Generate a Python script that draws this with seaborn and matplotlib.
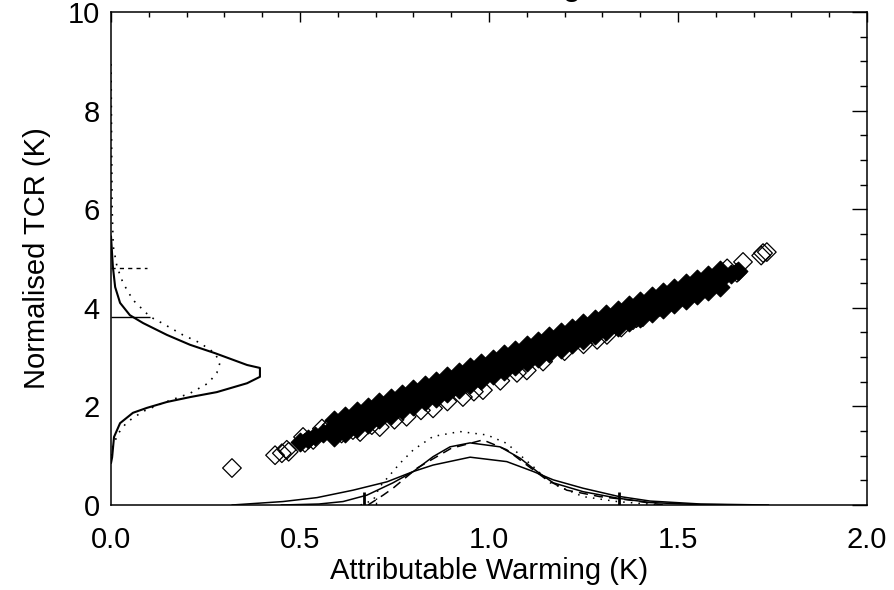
import numpy as np
import pandas as pd
import matplotlib
matplotlib.use("Agg")
import matplotlib.pyplot as plt
import seaborn as sns
from matplotlib.ticker import MultipleLocator, FixedLocator, FixedFormatter

# ---------------- data ----------------
# dense core of the scatter cloud (three rows across the band)
band_mid_x = [0.50, 0.52, 0.54, 0.56, 0.58, 0.60, 0.62, 0.64, 0.66, 0.68, 0.70, 0.72, 0.74, 0.76,
              0.78, 0.80, 0.82, 0.84, 0.86, 0.88, 0.90, 0.92, 0.94, 0.96, 0.98, 1.00, 1.02, 1.04,
              1.06, 1.08, 1.10, 1.12, 1.14, 1.16, 1.18, 1.20, 1.22, 1.24, 1.26, 1.28, 1.30, 1.32,
              1.34, 1.36, 1.38, 1.40, 1.42, 1.44, 1.46, 1.48, 1.50, 1.52, 1.54, 1.56, 1.58, 1.60,
              1.62, 1.64, 1.66]
band_mid_y = [1.28, 1.34, 1.40, 1.46, 1.52, 1.58, 1.64, 1.70, 1.76, 1.82, 1.88, 1.94, 2.00, 2.06,
              2.12, 2.18, 2.24, 2.30, 2.36, 2.41, 2.47, 2.53, 2.59, 2.65, 2.71, 2.77, 2.83, 2.89,
              2.95, 3.01, 3.07, 3.13, 3.19, 3.25, 3.31, 3.37, 3.43, 3.49, 3.55, 3.61, 3.67, 3.73,
              3.79, 3.85, 3.91, 3.97, 4.03, 4.09, 4.15, 4.21, 4.27, 4.33, 4.39, 4.45, 4.51, 4.57,
              4.63, 4.69, 4.75]
band_top_x = [0.59, 0.62, 0.65, 0.68, 0.71, 0.74, 0.77, 0.80, 0.83, 0.86, 0.89, 0.92, 0.95, 0.98,
              1.01, 1.04, 1.07, 1.10, 1.13, 1.16, 1.19, 1.22, 1.25, 1.28, 1.31, 1.34, 1.37, 1.40,
              1.43, 1.46, 1.49, 1.52, 1.55, 1.58, 1.61]
band_top_y = [1.72, 1.81, 1.90, 1.99, 2.08, 2.17, 2.26, 2.35, 2.44, 2.52, 2.61, 2.70, 2.79, 2.88,
              2.97, 3.06, 3.15, 3.24, 3.33, 3.42, 3.51, 3.60, 3.69, 3.78, 3.87, 3.96, 4.05, 4.14,
              4.23, 4.32, 4.41, 4.50, 4.59, 4.67, 4.76]
band_low_x = band_top_x
band_low_y = [1.38, 1.47, 1.56, 1.65, 1.74, 1.83, 1.92, 2.01, 2.10, 2.18, 2.27, 2.36, 2.45, 2.54,
              2.63, 2.72, 2.81, 2.90, 2.99, 3.08, 3.17, 3.26, 3.35, 3.44, 3.53, 3.62, 3.71, 3.80,
              3.89, 3.98, 4.07, 4.16, 4.25, 4.34, 4.43]

# individually visible (open) diamonds
open_x = [0.32, 0.434, 0.452, 0.465, 0.47, 0.508, 0.513, 0.535, 0.558, 0.584, 0.61, 0.64, 0.659,
          0.69, 0.711, 0.75, 0.782, 0.82, 0.852, 0.89, 0.931, 0.96, 0.984, 1.03, 1.074, 1.10,
          1.143, 1.20, 1.25, 1.286, 1.312, 1.35, 1.381, 1.39, 1.407, 1.452, 1.487, 1.524, 1.558,
          1.60, 1.63, 1.656, 1.672, 1.72, 1.725, 1.735]
open_y = [0.75, 1.01, 1.05, 1.12, 1.08, 1.38, 1.26, 1.32, 1.55, 1.62, 1.45, 1.52, 1.48, 1.62,
          1.58, 1.73, 1.79, 1.92, 1.96, 2.10, 2.19, 2.30, 2.33, 2.52, 2.68, 2.73, 2.91, 3.12,
          3.26, 3.35, 3.45, 3.60, 3.75, 3.79, 3.81, 4.02, 4.16, 4.36, 4.50, 4.62, 4.80, 4.71,
          4.93, 5.06, 5.11, 5.13]

# marginal PDF of Normalised TCR drawn along the y axis (x = density)
ypdf_solid_x = [0.0, 0.003, 0.008, 0.024, 0.058, 0.095, 0.148, 0.21, 0.28, 0.36, 0.394, 0.394,
                0.36, 0.275, 0.209, 0.148, 0.085, 0.05, 0.024, 0.011, 0.005, 0.0]
ypdf_solid_y = [0.85, 0.97, 1.38, 1.66, 1.87, 1.97, 2.09, 2.19, 2.29, 2.47, 2.60, 2.78,
                2.84, 3.08, 3.25, 3.45, 3.69, 3.85, 4.10, 4.42, 4.83, 5.45]
ypdf_dot_x = [0.0, 0.005, 0.019, 0.042, 0.085, 0.138, 0.21, 0.257, 0.28, 0.288, 0.275, 0.235,
              0.19, 0.135, 0.103, 0.058, 0.032, 0.016, 0.006, 0.003, 0.002, 0.001, 0.0]
ypdf_dot_y = [1.0, 1.2, 1.45, 1.68, 1.90, 2.07, 2.27, 2.47, 2.68, 2.88, 3.08, 3.29,
              3.45, 3.69, 3.82, 4.16, 4.50, 4.83, 5.24, 6.0, 7.0, 8.0, 9.0]

# marginal PDFs of Attributable Warming drawn along the x axis
xpdf_a_x = [0.45, 0.55, 0.614, 0.677, 0.746, 0.80, 0.852, 0.897, 0.95, 1.029, 1.082, 1.127,
            1.17, 1.249, 1.339, 1.426, 1.55, 1.70]
xpdf_a_y = [0.0, 0.02, 0.07, 0.20, 0.45, 0.68, 0.98, 1.18, 1.26, 1.18, 0.95, 0.68,
            0.45, 0.27, 0.14, 0.05, 0.01, 0.0]
xpdf_b_x = [0.32, 0.455, 0.545, 0.64, 0.73, 0.80, 0.852, 0.95, 1.047, 1.117, 1.17, 1.249,
            1.339, 1.426, 1.56, 1.74]
xpdf_b_y = [0.0, 0.07, 0.15, 0.30, 0.47, 0.68, 0.81, 0.97, 0.88, 0.68, 0.51, 0.34,
            0.18, 0.08, 0.02, 0.0]
xpdf_dot_x = [0.66, 0.694, 0.711, 0.765, 0.80, 0.852, 0.923, 0.995, 1.047, 1.117, 1.162,
              1.249, 1.339, 1.45]
xpdf_dot_y = [0.0, 0.10, 0.37, 0.85, 1.12, 1.39, 1.49, 1.42, 1.25, 0.78, 0.45,
              0.17, 0.07, 0.0]
xpdf_dash_x = [0.68, 0.72, 0.746, 0.81, 0.90, 0.984, 1.047, 1.10, 1.153, 1.206, 1.293, 1.373, 1.46]
xpdf_dash_y = [0.0, 0.20, 0.34, 0.75, 1.15, 1.32, 1.12, 0.81, 0.51, 0.30, 0.17, 0.10, 0.0]

# range markers
ymark_solid, ymark_dash = 3.82, 4.81
xmark_solid = [0.67, 1.345]
xmark_dash = [0.70]

xtick_vals = [0.0, 0.5, 1.0, 1.5, 2.0]
xtick_labels = ["0.0", "0.5", "1.0", "1.5", "2.0"]
ytick_vals = [0, 2, 4, 6, 8, 10]
ytick_labels = ["0", "2", "4", "6", "8", "10"]

# ---------------- figure ----------------
sns.set_style("white")
plt.rcParams['font.family'] = ['Liberation Sans', 'DejaVu Sans']

fig = plt.figure(figsize=(8.95, 5.9), dpi=100)
ax = fig.add_axes([111 / 895, 1 - 505 / 590, (867 - 111) / 895, (505 - 12) / 590])

core = pd.DataFrame({"x": band_mid_x + band_top_x + band_low_x,
                     "y": band_mid_y + band_top_y + band_low_y})
opn = pd.DataFrame({"x": open_x, "y": open_y})

sns.scatterplot(data=core, x="x", y="y", marker="D", s=90, color="black",
                edgecolor="black", linewidth=0.9, ax=ax, legend=False, zorder=3)
sns.scatterplot(data=opn, x="x", y="y", marker="D", s=90, facecolor="none",
                edgecolor="black", linewidth=0.9, ax=ax, legend=False, zorder=4)

lw = 1.1
sns.lineplot(x=ypdf_solid_x, y=ypdf_solid_y, sort=False, estimator=None, color="black",
             linewidth=1.5, ax=ax)
sns.lineplot(x=ypdf_dot_x, y=ypdf_dot_y, sort=False, estimator=None, color="black",
             linewidth=1.2, linestyle=(0, (1, 4)), ax=ax)
sns.lineplot(x=xpdf_a_x, y=xpdf_a_y, sort=False, estimator=None, color="black",
             linewidth=lw, ax=ax)
sns.lineplot(x=xpdf_b_x, y=xpdf_b_y, sort=False, estimator=None, color="black",
             linewidth=lw, ax=ax)
sns.lineplot(x=xpdf_dot_x, y=xpdf_dot_y, sort=False, estimator=None, color="black",
             linewidth=lw, linestyle=(0, (1, 4)), ax=ax)
sns.lineplot(x=xpdf_dash_x, y=xpdf_dash_y, sort=False, estimator=None, color="black",
             linewidth=lw, linestyle=(0, (6, 4)), ax=ax)

ax.hlines(ymark_solid, 0, 0.103, color="black", linewidth=1.0)
ax.hlines(ymark_dash, 0, 0.095, color="black", linewidth=1.0, linestyles=(0, (3, 3)))
ax.vlines(xmark_solid, 0, 0.26, color="black", linewidth=2.0)
ax.vlines(xmark_dash, 0, 0.14, color="black", linewidth=1.0, linestyles=(0, (2, 2)))

ax.set_xlim(0, 2)
ax.set_ylim(0, 10)
ax.xaxis.set_major_locator(FixedLocator(xtick_vals))
ax.xaxis.set_major_formatter(FixedFormatter(xtick_labels))
ax.xaxis.set_minor_locator(MultipleLocator(0.1))
ax.yaxis.set_major_locator(FixedLocator(ytick_vals))
ax.yaxis.set_major_formatter(FixedFormatter(ytick_labels))
ax.yaxis.set_minor_locator(MultipleLocator(0.5))

ax.tick_params(which="both", direction="in", top=True, right=True, color="black",
               width=1.0, labelsize=21, labelcolor="black")
ax.tick_params(axis="x", which="major", length=7.2, pad=15)
ax.tick_params(axis="x", which="minor", length=3.6)
ax.tick_params(axis="y", which="major", length=10.8, pad=8)
ax.tick_params(axis="y", which="minor", length=5)

for sp in ax.spines.values():
    sp.set_color("black")
    sp.set_linewidth(1.1)

ax.set_xlabel("Attributable Warming (K)", fontsize=21, color="black", labelpad=2)
ax.set_ylabel("Normalised TCR (K)", fontsize=21, color="black", labelpad=12)

fig.text(582 / 895, 1 + 4.5 / 590, "Scaling", ha="right", va="baseline", fontsize=24,
         color="black")

fig.savefig("out.png", dpi=100)
